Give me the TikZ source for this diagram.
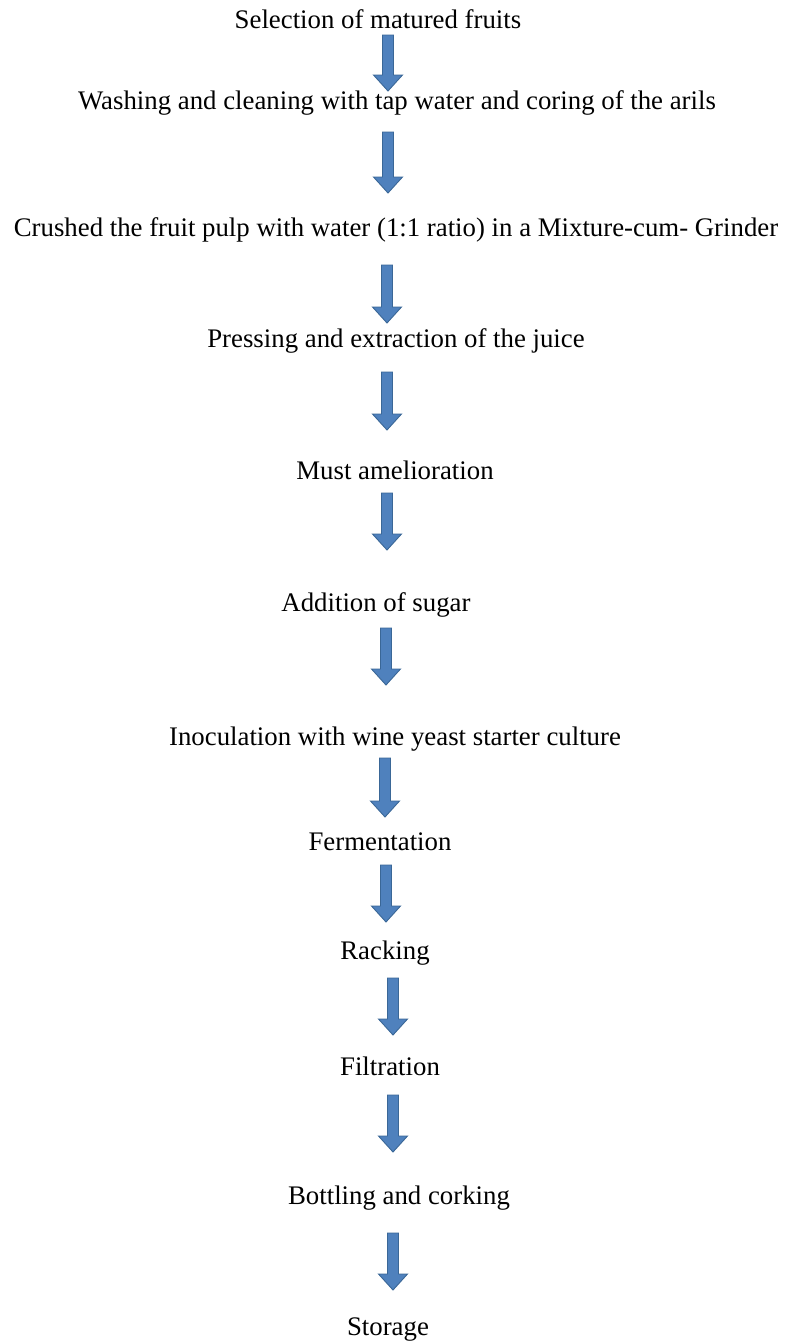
\documentclass[tikz,border=0pt]{standalone}
\usepackage{fontspec}
\setmainfont{Liberation Serif}
\usetikzlibrary{calc}
\definecolor{arrowfill}{HTML}{4F81BD}
\definecolor{arrowline}{HTML}{3A6797}
\tikzset{
  stepbox/.style={inner sep=0pt, anchor=center, font=\fontsize{26.8}{30}\selectfont, text=black},
  blockarrow/.style={fill=arrowfill, draw=arrowline, line width=0.9pt, line join=miter}
}
% block arrow from a named top coordinate down to a named tip coordinate
\newcommand\flowarrow[2]{%
  \path[blockarrow] let \p1=(#1), \p2=(#2) in
    (\x1-5.5pt,\y1) -- (\x1+5.5pt,\y1) -- (\x1+5.5pt,\y2+16pt) --
    (\x1+14.5pt,\y2+16pt) -- (\x1,\y2) -- (\x1-14.5pt,\y2+16pt) --
    (\x1-5.5pt,\y2+16pt) -- cycle;}
\begin{document}
\begin{tikzpicture}[x=1pt,y=-1pt]
\useasboundingbox (0,0) rectangle (785,1342);
\fill[white] (0,0) rectangle (785,1342);

\node[stepbox] (s1)  at (378,19)   {Selection of matured fruits};
\node[stepbox] (s2)  at (397,103)  {Washing and cleaning with tap water and coring of the arils};
\node[stepbox] (s3)  at (396,230)  {Crushed the fruit pulp with water (1:1 ratio) in a Mixture-cum- Grinder};
\node[stepbox] (s4)  at (396,341)  {Pressing and extraction of the juice};
\node[stepbox] (s5)  at (395,470)  {Must amelioration};
\node[stepbox] (s6)  at (376,605)  {Addition of sugar};
\node[stepbox] (s7)  at (395,739)  {Inoculation with wine yeast starter culture};
\node[stepbox] (s8)  at (380,842)  {Fermentation};
\node[stepbox] (s9)  at (385,953)  {Racking};
\node[stepbox] (s10) at (390,1066) {Filtration};
\node[stepbox] (s11) at (399,1198) {Bottling and corking};
\node[stepbox] (s12) at (388,1330) {Storage};

% arrow ends: top of shaft and tip of head
\coordinate (a1t)  at (388,35);   \coordinate (a1b)  at (388,91);
\coordinate (a2t)  at (388,132);  \coordinate (a2b)  at (388,193);
\coordinate (a3t)  at (387,265);  \coordinate (a3b)  at (387,323);
\coordinate (a4t)  at (387,372);  \coordinate (a4b)  at (387,430);
\coordinate (a5t)  at (387,493);  \coordinate (a5b)  at (387,550);
\coordinate (a6t)  at (386,628);  \coordinate (a6b)  at (386,685);
\coordinate (a7t)  at (385,758);  \coordinate (a7b)  at (385,817);
\coordinate (a8t)  at (386,865);  \coordinate (a8b)  at (386,922);
\coordinate (a9t)  at (393,978);  \coordinate (a9b)  at (393,1035);
\coordinate (a10t) at (393,1095); \coordinate (a10b) at (393,1152);
\coordinate (a11t) at (393,1233); \coordinate (a11b) at (393,1290);

\foreach \i in {1,...,11} {\flowarrow{a\i t}{a\i b}}
\end{tikzpicture}
\end{document}
